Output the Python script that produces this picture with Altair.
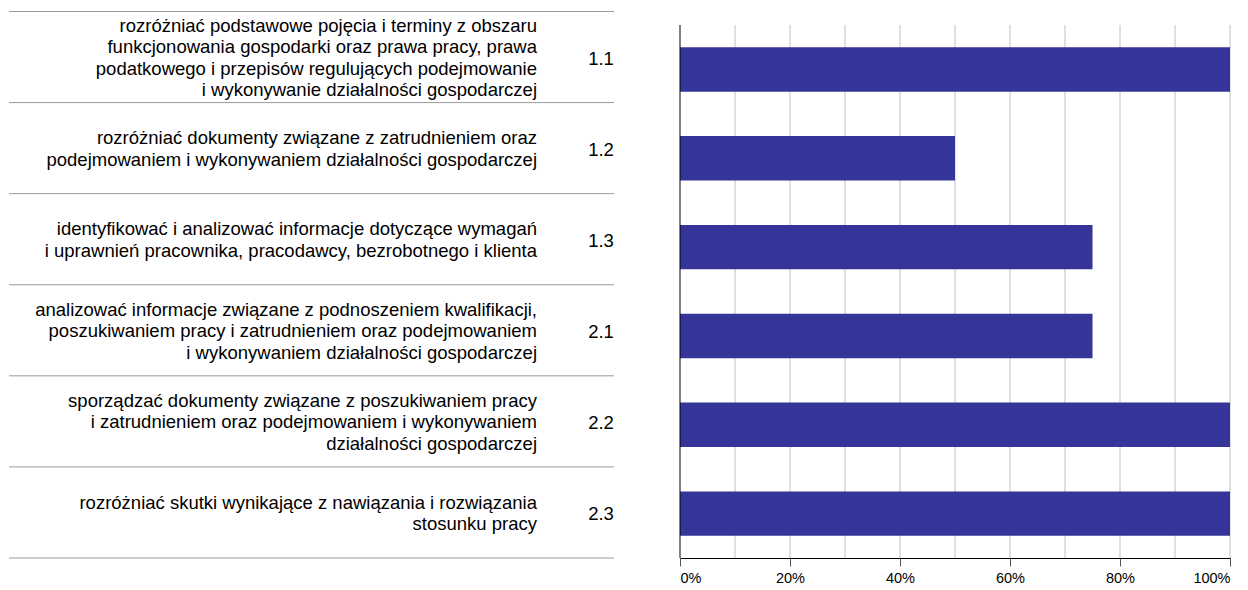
import altair as alt
import pandas as pd

codes = ["1.1", "1.2", "1.3", "2.1", "2.2", "2.3"]
descriptions = [
    "rozróżniać podstawowe pojęcia i terminy z obszaru\nfunkcjonowania gospodarki oraz prawa pracy, prawa\npodatkowego i przepisów regulujących podejmowanie\ni wykonywanie działalności gospodarczej",
    "rozróżniać dokumenty związane z zatrudnieniem oraz\npodejmowaniem i wykonywaniem działalności gospodarczej",
    "identyfikować i analizować informacje dotyczące wymagań\ni uprawnień pracownika, pracodawcy, bezrobotnego i klienta",
    "analizować informacje związane z podnoszeniem kwalifikacji,\nposzukiwaniem pracy i zatrudnieniem oraz podejmowaniem\ni wykonywaniem działalności gospodarczej",
    "sporządzać dokumenty związane z poszukiwaniem pracy\ni zatrudnieniem oraz podejmowaniem i wykonywaniem\ndziałalności gospodarczej",
    "rozróżniać skutki wynikające z nawiązania i rozwiązania\nstosunku pracy",
]
values = [1.0, 0.5, 0.75, 0.75, 1.0, 1.0]
separators = [0, 1, 2, 3, 4, 5, 6]
grid_values = [0.1, 0.2, 0.3, 0.4, 0.5, 0.6, 0.7, 0.8, 0.9, 1.0]
tick_values = [0, 0.2, 0.4, 0.6, 0.8, 1.0]

# layout constants (pixels)
LEFT_TOP, LEFT_BOTTOM = 3.5, 550
ROW_PX = (LEFT_BOTTOM - LEFT_TOP) / len(codes)
LINE_H = 21.5
FONT = "Liberation Sans"
FS = 18.5

rows = pd.DataFrame({"code": codes, "value": values,
                     "pos": [i + 0.5 for i in range(len(codes))]})

line_records = []
for r, desc in enumerate(descriptions):
    parts = desc.split("\n")
    n = len(parts)
    for i, t in enumerate(parts):
        line_records.append({"line": t,
                             "ypos": r + 0.5 + (i - (n - 1) / 2) * LINE_H / ROW_PX + 1.0 / ROW_PX})
lines = pd.DataFrame(line_records)
seps = pd.DataFrame({"b": separators})
grid = pd.DataFrame({"g": grid_values})
zero = pd.DataFrame({"z": [0]})

yscale_left = alt.Scale(domain=[0, 6], range=[LEFT_TOP, LEFT_BOTTOM])

sep_lines = alt.Chart(seps).mark_rule(color="#9a9a9a", strokeWidth=1).encode(
    y=alt.Y("b:Q", scale=yscale_left, axis=None),
    x=alt.value(1),
    x2=alt.value(606),
)
desc_text = alt.Chart(lines).mark_text(
    align="right", baseline="middle", font=FONT, fontSize=FS, color="#000000",
).encode(
    y=alt.Y("ypos:Q", scale=yscale_left, axis=None),
    x=alt.value(529),
    text="line:N",
)
code_text = alt.Chart(rows).mark_text(
    align="center", baseline="middle", font=FONT, fontSize=FS, color="#000000", dy=2,
).encode(
    y=alt.Y("pos:Q", scale=yscale_left, axis=None),
    x=alt.value(593),
    text="code:N",
)
left = alt.layer(sep_lines, desc_text, code_text).properties(width=611, height=550)

xscale = alt.Scale(domain=[0, 1])
yscale_right = alt.Scale(domain=codes, range=[17, 550], paddingInner=0.5, paddingOuter=0.25)

grid_lines = alt.Chart(grid).mark_rule(color="#c0c0c0", strokeWidth=1).encode(
    x=alt.X("g:Q", scale=xscale),
    y=alt.value(17),
    y2=alt.value(550),
)
bars = alt.Chart(rows).mark_bar(color="#353599").encode(
    x=alt.X("value:Q", scale=xscale,
            axis=alt.Axis(values=tick_values, format="%", grid=False, title=None,
                          domainColor="#000000", tickColor="#555555", tickSize=8,
                          labelFont=FONT, labelFontSize=14.5,
                          labelColor="#000000", labelPadding=5)),
    y=alt.Y("code:N", scale=yscale_right, axis=None, sort=codes),
)
zero_line = alt.Chart(zero).mark_rule(color="#000000", strokeWidth=1).encode(
    x=alt.X("z:Q", scale=xscale),
    y=alt.value(17),
    y2=alt.value(550),
)
right = alt.layer(grid_lines, bars, zero_line).properties(width=550, height=550)

chart = alt.hconcat(left, right, spacing=60).properties(padding=0).configure_view(stroke=None)

chart.save("out.html", embed_options={"renderer": "svg", "actions": False})
